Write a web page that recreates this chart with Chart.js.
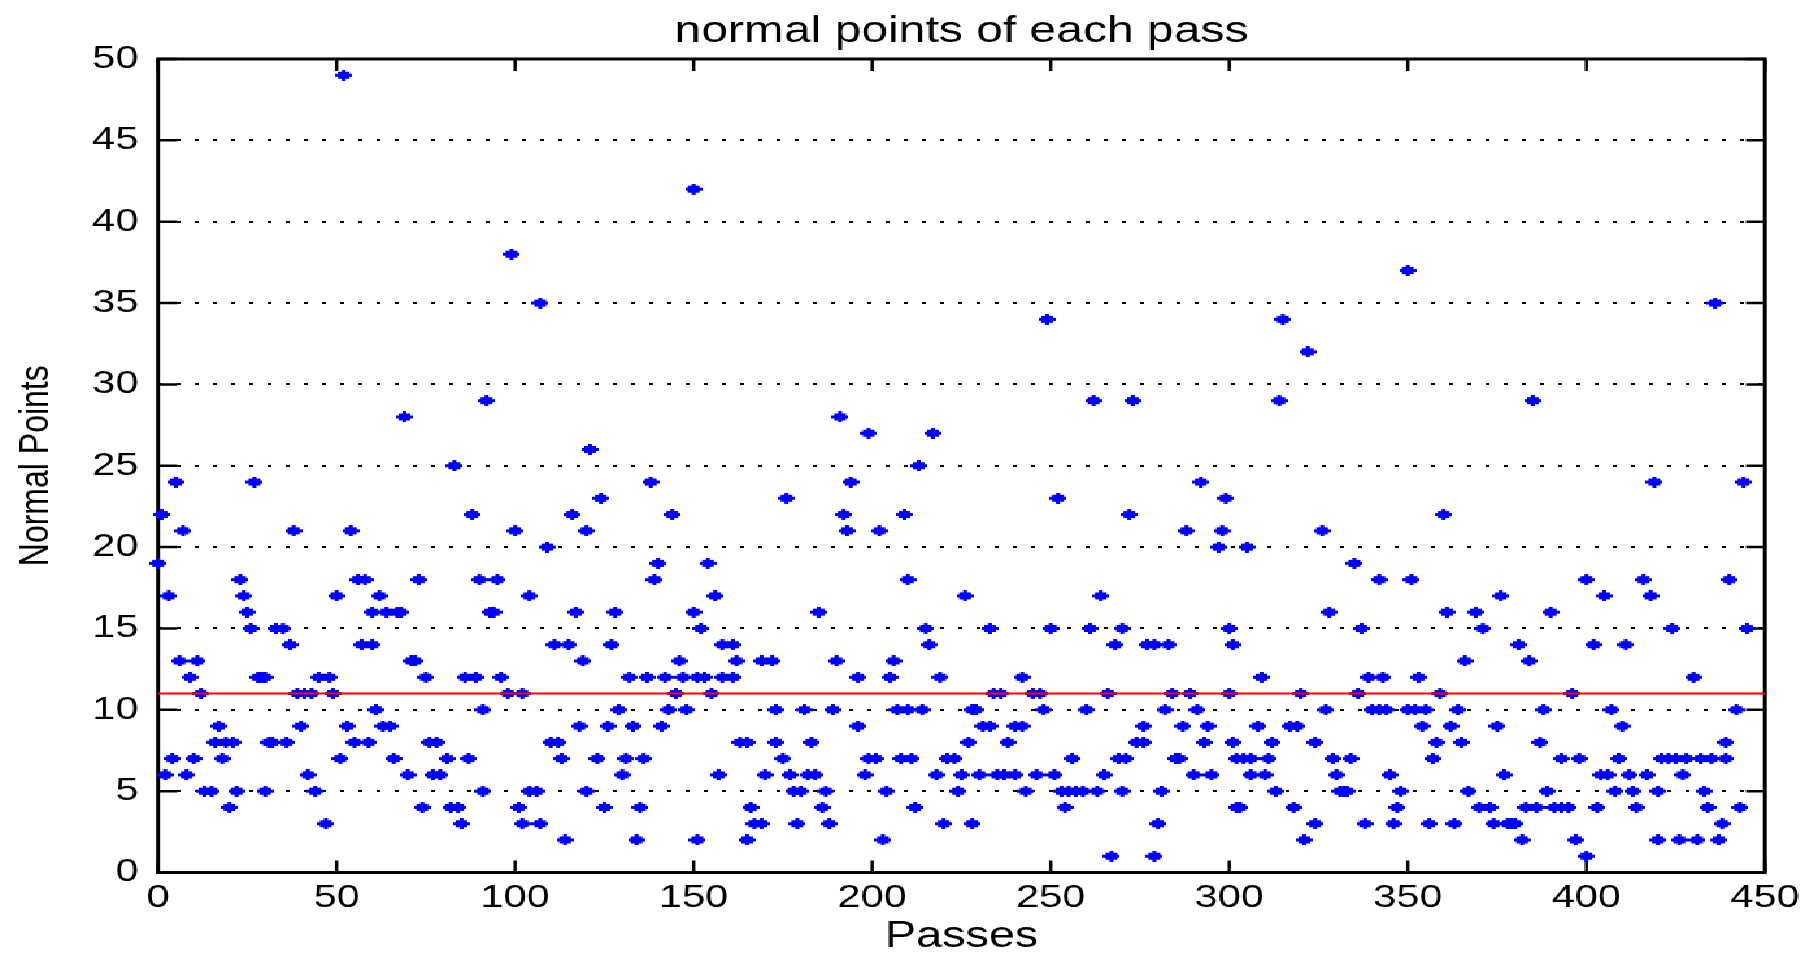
<!DOCTYPE html>
<html>
<head>
<meta charset="utf-8">
<title>normal points of each pass</title>
<script src="https://cdn.jsdelivr.net/npm/chart.js@4.4.1/dist/chart.umd.min.js"></script>
<style>
  html, body { margin: 0; padding: 0; background: #fff; }
  /* the original figure is stretched sideways, so the canvas is drawn narrower and widened */
  #myChart { width: 1818px; height: 953px; image-rendering: pixelated; }
</style>
</head>
<body>
<canvas id="myChart" width="1400" height="953" style="width:1818px;height:953px"></canvas>
<script>
// one value per pass
const passes = [
    0,1,2,3,4,5,6,7,8,9,10,11,12,13,15,16,17,18,19,20,21,22,23,24,25,26,27,28,29,30,30,31,32,33,
    35,36,37,38,39,40,41,42,43,44,45,47,48,49,50,51,52,53,54,55,56,57,58,59,60,60,
    61,62,63,64,65,66,67,68,69,70,71,72,73,74,75,76,
    77,78,79,81,82,83,84,85,86,87,88,89,90,91,91,92,93,94,95,96,98,99,100,101,102,102,104,104,106,107,
    107,109,110,111,112,113,114,115,116,117,118,119,120,120,121,123,124,125,126,127,
    128,129,130,131,132,133,134,135,136,137,138,139,140,141,142,143,144,145,146,147,148,
    150,150,151,151,152,153,154,155,156,157,158,158,161,161,162,163,165,165,166,167,
    169,169,170,172,173,173,175,176,177,178,179,180,181,182,183,184,185,186,187,188,
    189,190,191,192,193,194,196,196,198,199,199,201,202,203,204,205,206,207,208,209,
    210,210,211,212,213,214,215,216,217,218,219,220,221,223,224,225,226,227,228,228,
    229,230,231,233,233,234,235,236,237,238,240,240,242,242,243,245,246,247,248,249,
    250,251,252,253,254,255,256,257,259,260,261,262,263,264,265,266,267,268,269,270,
    270,271,272,273,274,276,276,277,279,279,280,281,282,283,284,285,286,287,288,289,
    290,291,292,293,294,295,297,298,299,300,300,301,301,302,302,
    303,304,305,306,306,308,309,310,311,312,313,314,315,317,318,319,320,321,322,324,
    324,326,327,328,329,330,331,332,333,334,335,336,337,338,339,340,342,342,343,344,
    345,346,347,348,350,350,351,352,353,354,355,356,357,358,359,360,361,362,363,364,
    365,366,367,369,370,371,373,374,375,376,377,378,
    379,380,381,382,383,384,385,386,387,388,389,390,391,393,393,395,396,397,398,400,
    400,402,403,404,405,406,407,408,409,410,411,412,413,414,416,417,418,419,420,420,
    421,423,424,425,426,427,428,430,431,432,433,434,435,436,437,438,439,439,440,442,
    443,444,445
];
const normalPoints = [
    19,22,6,17,7,24,13,21,6,12,7,13,11,5,5,8,9,7,8,4,8,5,18,17,16,15,24,12,12,12,5,8,8,15,
    15,8,14,21,11,9,11,6,11,5,12,3,12,11,17,7,49,9,21,8,18,14,18,8,16,14,
    10,17,9,16,9,7,16,16,28,6,13,13,18,4,12,8,
    6,8,6,7,4,25,4,3,12,7,22,12,18,10,5,29,16,16,18,12,11,38,21,4,11,3,17,5,5,3,
    35,20,8,14,8,7,2,14,22,16,9,13,21,5,26,7,23,4,9,14,
    16,10,6,7,12,9,2,4,7,12,24,18,19,9,12,10,22,11,13,12,10,
    42,16,2,12,15,12,19,11,17,6,14,12,14,12,13,8,8,2,4,3,
    13,3,6,13,10,8,7,23,6,5,3,5,10,6,8,6,16,4,5,3,
    10,13,28,22,21,24,12,9,6,27,7,7,21,2,5,12,13,10,7,22,
    18,10,7,4,25,10,15,14,27,6,12,3,7,7,5,6,17,8,10,3,
    10,6,9,9,15,11,6,11,6,8,9,6,12,9,5,11,6,11,10,34,
    15,6,23,5,4,5,7,5,5,10,15,29,5,17,6,11,1,14,7,15,
    5,7,22,29,8,9,8,14,14,1,3,5,10,14,11,7,7,9,21,11,
    6,10,24,8,9,6,20,21,23,15,11,8,14,7,4,
    4,7,20,7,6,9,12,6,7,8,5,29,34,9,4,9,11,2,32,8,
    3,21,10,16,7,6,5,5,5,7,19,11,15,3,12,10,18,10,12,10,
    6,3,4,5,37,10,18,10,12,9,10,3,7,8,11,22,16,9,3,10,
    8,13,5,16,4,15,4,3,9,17,6,3,
    3,3,14,2,4,13,29,4,8,10,5,16,4,7,4,4,11,2,7,18,
    1,14,4,6,17,6,10,5,7,9,14,6,5,4,18,6,17,24,5,2,
    7,7,15,7,2,6,7,12,2,7,5,4,7,35,2,3,8,7,18,10,
    4,24,15
];
const meanValue = 11;
const xTicks = [0, 50, 100, 150, 200, 250, 300, 350, 400, 450];
const yTicks = [0, 5, 10, 15, 20, 25, 30, 35, 40, 45, 50];

const FONT = "'Liberation Sans', Arial, sans-serif";
const STRETCH = 1818 / 1400;

// matlab style '*' marker
const marker = document.createElement('canvas');
marker.width = 13;
marker.height = 11;
const mctx = marker.getContext('2d');
mctx.fillStyle = '#0000ff';
mctx.fillRect(0, 4, 13, 3);
mctx.fillRect(2, 2, 9, 7);
mctx.fillRect(5, 0, 3, 11);

// box round the plot with inward ticks, like matlab axes
const axesBox = {
    id: 'axesBox',
    beforeDatasetsDraw(chart) {
        const ctx = chart.ctx;
        const a = chart.chartArea;
        const x = chart.scales.x;
        const y = chart.scales.y;
        ctx.save();
        ctx.strokeStyle = '#000';
        ctx.lineWidth = 3;
        ctx.strokeRect(a.left, a.top, a.right - a.left, a.bottom - a.top);
        ctx.lineWidth = 2.5;
        ctx.beginPath();
        yTicks.forEach(function (v) {
            const py = y.getPixelForValue(v);
            ctx.moveTo(a.left, py);
            ctx.lineTo(a.left + 19 / STRETCH, py);
            ctx.moveTo(a.right, py);
            ctx.lineTo(a.right - 19 / STRETCH, py);
        });
        xTicks.forEach(function (v) {
            const px = x.getPixelForValue(v);
            ctx.moveTo(px, a.bottom);
            ctx.lineTo(px, a.bottom - 12);
            ctx.moveTo(px, a.top);
            ctx.lineTo(px, a.top + 12);
        });
        ctx.stroke();
        ctx.restore();
    }
};

const ctx = document.getElementById('myChart').getContext('2d');
const myChart = new Chart(ctx, {
    type: 'scatter',
    data: {
        datasets: [{
            type: 'line',
            label: 'mean',
            data: [{x: xTicks[0], y: meanValue}, {x: xTicks[xTicks.length - 1], y: meanValue}],
            borderColor: '#ff0000',
            borderWidth: 2,
            pointRadius: 0,
            order: 0
        }, {
            label: 'normal points',
            data: passes.map((p, i) => ({x: p, y: normalPoints[i]})),
            pointStyle: marker,
            pointRadius: 6,
            clip: false,
            order: 1
        }]
    },
    options: {
        responsive: false,
        devicePixelRatio: 1,
        animation: false,
        layout: {
            padding: {left: 0, right: 1400 - 1765 / STRETCH, top: 0, bottom: 0}
        },
        scales: {
            x: {
                type: 'linear',
                min: 0,
                max: 450,
                afterBuildTicks: scale => { scale.ticks = xTicks.map(v => ({value: v})); },
                afterFit: scale => { scale.height = 953 - 872.5; },
                grid: {display: false, drawTicks: false},
                border: {display: false},
                ticks: {
                    color: '#000',
                    padding: 6,
                    maxRotation: 0,
                    font: {family: FONT, size: 32}
                },
                title: {
                    display: true,
                    text: 'Passes',
                    color: '#000',
                    font: {family: FONT, size: 36, lineHeight: 1},
                    padding: {top: 0, bottom: -2}
                }
            },
            // top axis only carries the figure title, centred over the plot
            x2: {
                type: 'linear',
                position: 'top',
                min: 0,
                max: 450,
                afterFit: scale => { scale.height = 59; },
                grid: {display: false, drawTicks: false},
                border: {display: false},
                ticks: {display: false},
                title: {
                    display: true,
                    text: 'normal points of each pass',
                    color: '#000',
                    font: {family: FONT, size: 37, lineHeight: 1},
                    padding: {top: 13, bottom: 0}
                }
            },
            y: {
                min: 0,
                max: 50,
                afterBuildTicks: scale => { scale.ticks = yTicks.map(v => ({value: v})); },
                afterFit: scale => { scale.width = 158 / STRETCH; },
                grid: {
                    color: '#000',
                    lineWidth: 2,
                    drawTicks: false
                },
                border: {display: false, dash: [3, 11]},
                ticks: {
                    color: '#000',
                    padding: 15,
                    font: {family: FONT, size: 32}
                },
                title: {
                    display: true,
                    text: 'Normal Points',
                    color: '#000',
                    font: {family: FONT, size: 32, lineHeight: 1},
                    padding: {top: 12, bottom: 0}
                }
            }
        },
        plugins: {
            legend: {display: false},
            tooltip: {enabled: false},
            title: {display: false}
        }
    },
    plugins: [axesBox]
});
</script>
</body>
</html>
